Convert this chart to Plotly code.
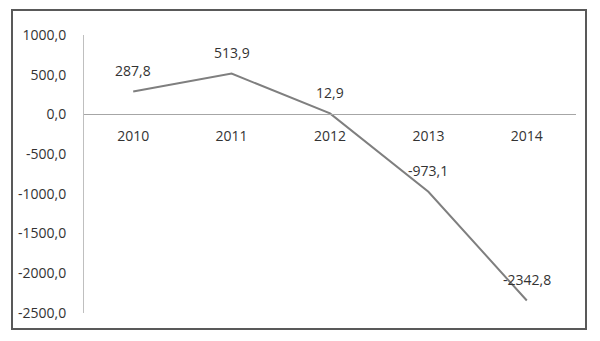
import plotly.graph_objects as go

years = ["2010", "2011", "2012", "2013", "2014"]
values = [287.8, 513.9, 12.9, -973.1, -2342.8]
y_tickvals = [1000, 500, 0, -500, -1000, -1500, -2000, -2500]
y_ticktext = ["1000,0", "500,0", "0,0", "-500,0", "-1000,0", "-1500,0", "-2000,0", "-2500,0"]

labels = [f"{v:.1f}".replace(".", ",") for v in values]

FONT = dict(family="Open Sans", size=14, color="#333333")

fig = go.Figure()
fig.add_trace(go.Scatter(
    x=years, y=values, mode="lines",
    line=dict(color="#7f7f7f", width=2),
    hoverinfo="skip", showlegend=False,
))

for i, (y, t) in enumerate(zip(values, labels)):
    fig.add_annotation(x=i, y=y, text=t, showarrow=False, yshift=21,
                       font=FONT, xref="x", yref="y")

ymin, ymax = -2500, 1000
fig.update_layout(
    width=600, height=341,
    margin=dict(l=84, r=24, t=35, b=28),
    plot_bgcolor="white", paper_bgcolor="white",
    xaxis=dict(
        type="category", range=[-0.5, 4.5],
        anchor="free", position=(0 - ymin) / (ymax - ymin),
        showline=True, linecolor="#a6a6a6", linewidth=1,
        showgrid=False, zeroline=False,
        ticks="outside", ticklen=9, tickcolor="rgba(0,0,0,0)",
        tickfont=FONT,
    ),
    yaxis=dict(
        range=[ymin, ymax],
        tickvals=y_tickvals, ticktext=y_ticktext,
        showline=True, linecolor="#bfbfbf", linewidth=1,
        showgrid=False, zeroline=False,
        ticks="outside", ticklen=14, tickcolor="rgba(0,0,0,0)",
        tickfont=FONT,
    ),
    shapes=[dict(
        type="rect", xref="paper", yref="paper",
        x0=(12 - 84) / 492, x1=(586 - 84) / 492,
        y0=(313 - 329) / 278, y1=(313 - 10) / 278,
        line=dict(color="#595959", width=2), fillcolor="rgba(0,0,0,0)",
        layer="below",
    )],
)

fig.write_html("out.html", config={"displayModeBar": False},
               post_script="document.body.style.margin='0';document.body.style.overflow='hidden';")
